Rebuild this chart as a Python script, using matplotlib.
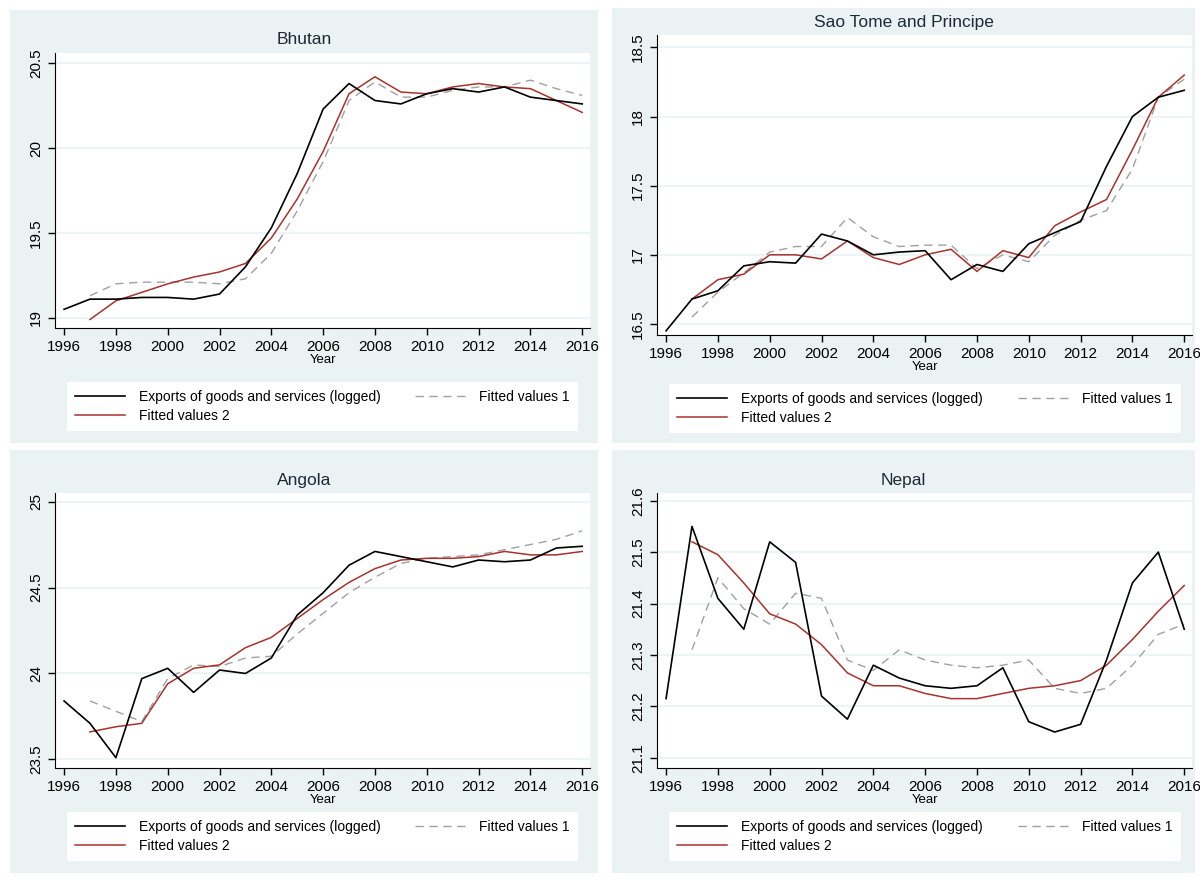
import numpy as np
import matplotlib.pyplot as plt
from matplotlib.patches import Rectangle
from matplotlib.lines import Line2D

plt.rcParams['font.family'] = ['Liberation Sans', 'DejaVu Sans']

W, H = 1200, 877
years = np.arange(1996, 2017)
fit_years = np.arange(1997, 2017)

# ---------------- data ----------------
bhutan_exp = [19.05, 19.11, 19.11, 19.12, 19.12, 19.11, 19.14, 19.30, 19.53, 19.85, 20.23,
              20.38, 20.28, 20.26, 20.32, 20.35, 20.33, 20.36, 20.30, 20.28, 20.26]
bhutan_fit1 = [19.13, 19.20, 19.21, 19.21, 19.21, 19.20, 19.23, 19.38, 19.63, 19.92,
               20.28, 20.39, 20.30, 20.30, 20.34, 20.36, 20.36, 20.40, 20.35, 20.31]
bhutan_fit2 = [18.99, 19.10, 19.15, 19.20, 19.24, 19.27, 19.32, 19.47, 19.70, 19.98,
               20.32, 20.42, 20.33, 20.32, 20.36, 20.38, 20.36, 20.35, 20.28, 20.21]

stp_exp = [16.45, 16.68, 16.74, 16.92, 16.95, 16.94, 17.15, 17.10, 17.00, 17.02, 17.03,
           16.82, 16.93, 16.88, 17.08, 17.16, 17.24, 17.64, 18.00, 18.14, 18.19]
stp_fit1 = [16.55, 16.73, 16.87, 17.02, 17.06, 17.06, 17.27, 17.13, 17.06, 17.07,
            17.07, 16.90, 17.00, 16.95, 17.14, 17.25, 17.32, 17.62, 18.14, 18.27]
stp_fit2 = [16.68, 16.82, 16.86, 17.00, 17.00, 16.97, 17.10, 16.98, 16.93, 17.00,
            17.04, 16.88, 17.03, 16.98, 17.21, 17.31, 17.40, 17.76, 18.14, 18.30]

angola_exp = [23.84, 23.71, 23.51, 23.97, 24.03, 23.89, 24.02, 24.00, 24.09, 24.34, 24.47,
              24.63, 24.71, 24.68, 24.65, 24.62, 24.66, 24.65, 24.66, 24.73, 24.74]
angola_fit1 = [23.84, 23.78, 23.72, 23.97, 24.05, 24.04, 24.09, 24.10, 24.23, 24.35,
               24.47, 24.56, 24.64, 24.67, 24.68, 24.69, 24.72, 24.75, 24.78, 24.83]
angola_fit2 = [23.66, 23.69, 23.71, 23.94, 24.03, 24.05, 24.15, 24.21, 24.32, 24.43,
               24.53, 24.61, 24.66, 24.67, 24.67, 24.68, 24.71, 24.69, 24.69, 24.71]

nepal_exp = [21.215, 21.55, 21.41, 21.35, 21.52, 21.48, 21.22, 21.175, 21.28, 21.255, 21.24,
             21.235, 21.24, 21.275, 21.17, 21.15, 21.165, 21.29, 21.44, 21.50, 21.35]
nepal_fit1 = [21.31, 21.45, 21.39, 21.36, 21.42, 21.41, 21.29, 21.27, 21.31, 21.29,
              21.28, 21.275, 21.28, 21.29, 21.235, 21.225, 21.235, 21.28, 21.34, 21.36]
nepal_fit2 = [21.52, 21.495, 21.44, 21.38, 21.36, 21.32, 21.265, 21.24, 21.24, 21.225,
              21.215, 21.215, 21.225, 21.235, 21.24, 21.25, 21.28, 21.33, 21.385, 21.435]

panels = [
    # title, exp, fit1, fit2, yticks, ylim, bg box, plot box, title y, legend box
    ("Bhutan", bhutan_exp, bhutan_fit1, bhutan_fit2, [19, 19.5, 20, 20.5], (18.94, 20.56),
     (10, 10, 598, 443), (55, 53, 590, 328), 39, (60, 383, 585, 438)),
    ("Sao Tome and Principe", stp_exp, stp_fit1, stp_fit2, [16.5, 17, 17.5, 18, 18.5], (16.42, 18.59),
     (612, 8, 1195, 443), (657, 35, 1192, 335), 22, (662, 388, 1188, 440)),
    ("Angola", angola_exp, angola_fit1, angola_fit2, [23.5, 24, 24.5, 25], (23.45, 25.05),
     (10, 450, 598, 873), (55, 493, 590, 768), 480, (60, 815, 585, 868)),
    ("Nepal", nepal_exp, nepal_fit1, nepal_fit2, [21.1, 21.2, 21.3, 21.4, 21.5, 21.6], (21.08, 21.615),
     (612, 450, 1195, 873), (657, 493, 1192, 768), 480, (662, 815, 1188, 868)),
]

bg_col = '#eaf2f3'
red = '#a8322d'
gray = '#a0a0a0'


def frac(x0, y0, x1, y1):
    return [x0 / W, 1 - y1 / H, (x1 - x0) / W, (y1 - y0) / H]


fig = plt.figure(figsize=(W / 100, H / 100), dpi=100)
fig.patch.set_facecolor('white')

for title, exp, fit1, fit2, yticks, ylim, bg, box, ty, lg in panels:
    b = frac(*bg)
    fig.add_artist(Rectangle((b[0], b[1]), b[2], b[3], transform=fig.transFigure,
                             facecolor=bg_col, edgecolor='none', zorder=0))
    ax = fig.add_axes(frac(*box))
    ax.set_facecolor('white')
    ax.plot(years, exp, color='black', lw=1.2, zorder=4)
    ax.plot(fit_years, fit1, color=gray, lw=1.0, dashes=(6, 4), zorder=3)
    ax.plot(fit_years, fit2, color=red, lw=1.1, zorder=3)

    ax.set_xlim(1995.65, 2016.3)
    ax.set_ylim(*ylim)
    ax.set_xticks(np.arange(1996, 2017, 2))
    ax.set_yticks(yticks)
    ax.set_yticklabels([('%g' % v) for v in yticks], rotation=90, va='center')
    ax.tick_params(direction='out', length=5, width=1, labelsize=11, colors='black')
    ax.grid(axis='y', color=bg_col, lw=1.2)
    ax.set_axisbelow(True)
    for s in ['top', 'right']:
        ax.spines[s].set_visible(False)
    ax.set_xlabel('Year', fontsize=9.5, labelpad=0)

    fig.text((bg[0] + bg[2]) / 2 / W, 1 - ty / H, title, ha='center', va='center',
             fontsize=12.5, color='#1e2a3a')

    handles = [Line2D([], [], color='black', lw=1.2),
               Line2D([], [], color=red, lw=1.1),
               Line2D([], [], color=gray, lw=1.0, dashes=(6, 4))]
    labels = ['Exports of goods and services (logged)', 'Fitted values 2', 'Fitted values 1']
    l = frac(*lg)
    leg = ax.legend(handles, labels, ncol=2, loc='lower left', mode='expand',
                    bbox_to_anchor=(l[0], l[1], l[2], l[3]), bbox_transform=fig.transFigure,
                    frameon=True, fancybox=False, edgecolor='none', facecolor='white',
                    framealpha=1, fontsize=10, handlelength=3.6, handletextpad=1.0,
                    labelspacing=0.35, borderpad=0.6, columnspacing=1.5)

fig.savefig('out.png', dpi=100, facecolor='white')
